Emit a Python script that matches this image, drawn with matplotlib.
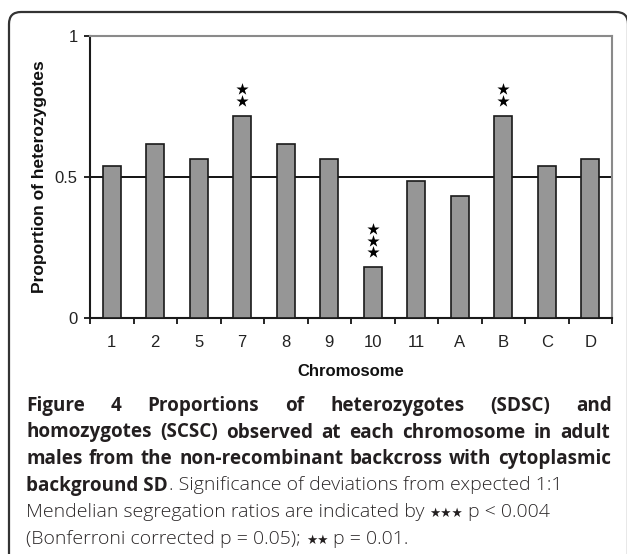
import matplotlib
matplotlib.use('Agg')
import matplotlib.pyplot as plt
from matplotlib.patches import FancyBboxPatch
from matplotlib.transforms import IdentityTransform, offset_copy
import numpy as np

chromosomes = ['1', '2', '5', '7', '8', '9', '10', '11', 'A', 'B', 'C', 'D']
proportions = [0.54, 0.616, 0.564, 0.718, 0.616, 0.564, 0.18, 0.487, 0.434, 0.718, 0.54, 0.564]
stars = [0, 0, 0, 2, 0, 0, 3, 0, 0, 2, 0, 0]
yticks = [0, 0.5, 1]
ytick_labels = ['0', '0.5', '1']
ylabel = 'Proportion of heterozygotes'
xlabel = 'Chromosome'

caption_bold_lines = [
    'Figure 4 Proportions of heterozygotes (SDSC) and',
    'homozygotes (SCSC) observed at each chromosome in adult',
    'males from the non-recombinant backcross with cytoplasmic',
]
# remaining lines as (text, style) pieces; 'sp' = word space
caption_rest = [
    [('background SD', 'b'), ('. Significance of deviations from expected 1:1', 'r')],
    [('Mendelian segregation ratios are indicated by', 'r'), (' ', 'sp'),
     ('\u2605\u2605\u2605', 's'), (' ', 'sp'), ('p < 0.004', 'r')],
    [('(Bonferroni corrected p = 0.05);', 'r'), (' ', 'sp'),
     ('\u2605\u2605', 's'), (' ', 'sp'), ('p = 0.01.', 'r')],
]

W, H = 627, 554
fig = plt.figure(figsize=(W / 100, H / 100), dpi=100)
fig.patch.set_facecolor('white')

# outer rounded frame
frame = FancyBboxPatch((9, -40), 628 - 9, H - 12 + 40,
                       boxstyle='round,pad=0,rounding_size=12',
                       transform=IdentityTransform(), fill=False,
                       edgecolor='#333333', linewidth=1.6)
fig.patches.append(frame)

sans = ['Liberation Sans', 'Arial', 'DejaVu Sans']
ax = fig.add_axes([90 / W, 1 - 318.3 / H, (612 - 90) / W, (318.3 - 36) / H])
x = np.arange(len(chromosomes))
ax.bar(x, proportions, width=0.42, color='#969696', edgecolor='#1a1a1a',
       linewidth=1.2, zorder=3)
ax.axhline(0.5, color='black', lw=1.3, zorder=2)
ax.set_xlim(-0.5, len(chromosomes) - 0.5)
ax.set_ylim(0, 1)

# significance stars stacked above bars
for k in range(max(stars)):
    tr = offset_copy(ax.transData, fig=fig, x=0, y=15 + 11.5 * k, units='dots')
    xs = [xi for xi, n in zip(x, stars) if n > k]
    ys = [v for v, n in zip(proportions, stars) if n > k]
    ax.scatter(xs, ys, marker='*', s=85, color='black', linewidths=0,
               transform=tr, zorder=4, clip_on=False)

ax.set_yticks(yticks)
ax.set_yticklabels(ytick_labels, fontfamily=sans, fontsize=12, color='#222222')
ax.tick_params(axis='y', direction='out', length=4, width=1.2, pad=5, color='black')
ax.set_xticks(np.arange(-0.5, len(chromosomes), 1))
ax.set_xticklabels([])
ax.set_xticks(x, minor=True)
ax.set_xticklabels(chromosomes, minor=True, fontfamily=sans, fontsize=12, color='#222222')
ax.tick_params(axis='x', which='major', direction='out', length=4, width=1.2, color='black')
ax.tick_params(axis='x', which='minor', length=0, pad=12)

for s in ['left', 'bottom']:
    ax.spines[s].set_color('#1a1a1a')
    ax.spines[s].set_linewidth(1.5)
for s in ['top', 'right']:
    ax.spines[s].set_color('#8a8a8a')
    ax.spines[s].set_linewidth(1.5)

fig.text(40 / W, 1 - 177 / H, ylabel, rotation=90, ha='center', va='center',
         fontfamily=sans, fontweight='bold', fontsize=12.5, color='#111111')
fig.text(351 / W, 1 - 372 / H, xlabel, ha='center', va='center',
         fontfamily=sans, fontweight='bold', fontsize=12, color='#111111')

# caption
renderer = fig.canvas.get_renderer()
cap_font = ['Open Sans', 'DejaVu Sans']
styles = {
    'b': dict(fontfamily=cap_font, fontweight='bold', fontsize=13.6, color='#231f20'),
    'r': dict(fontfamily=cap_font, fontweight='light', fontsize=14, color='#2a2627'),
    's': dict(fontfamily='DejaVu Sans', fontweight='normal', fontsize=9, color='#231f20'),
}
left = 26
rights = [612, 610, 611]
baselines = [411, 437.5, 464, 490.5, 517, 543.5]


def put(s, xpix, ybase, kw):
    return fig.text(xpix / W, 1 - ybase / H, s, ha='left', va='baseline', **kw)


def wid(t):
    return t.get_window_extent(renderer).width


for line, yb, right in zip(caption_bold_lines, baselines[:3], rights):
    words = line.split(' ')
    ts = [put(w, 0, yb, styles['b']) for w in words]
    widths = [wid(t) for t in ts]
    gap = (right - left - sum(widths)) / (len(words) - 1)
    xp = left
    for t, w in zip(ts, widths):
        t.set_x(xp / W)
        xp += w + gap

ta = put('a a', 0, -100, styles['r'])
tb = put('aa', 0, -100, styles['r'])
space_w = wid(ta) - wid(tb)
ta.remove()
tb.remove()

for pieces, yb in zip(caption_rest, baselines[3:]):
    xp = left
    for s, st in pieces:
        if st == 'sp':
            xp += space_w
            continue
        t = put(s, xp, yb, styles[st])
        xp += wid(t) + (1 if st == 'b' else 0)

fig.savefig('out.png', dpi=100)
